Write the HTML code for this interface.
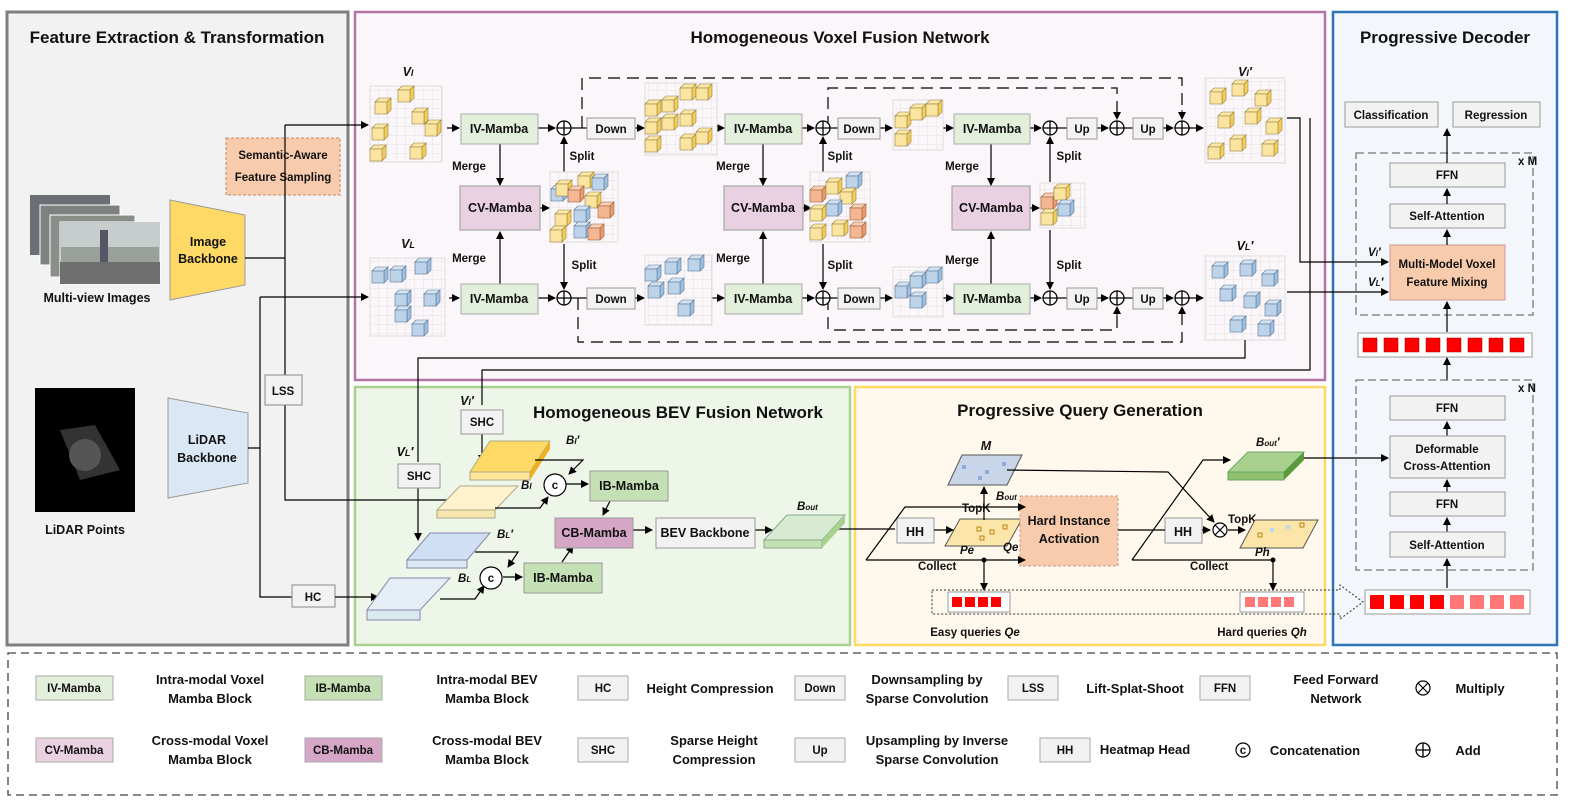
<!DOCTYPE html>
<html><head><meta charset="utf-8"><style>
html,body{margin:0;padding:0;background:#fff}
svg{display:block}
text{font-family:"Liberation Sans",sans-serif;font-weight:bold;fill:#111}
.t{font-size:17px}
.b{font-size:12.5px}
.s{font-size:11.5px}
.l{font-size:13px}
.i{font-style:italic}
</style></head><body>
<svg width="1577" height="809" viewBox="0 0 1577 809" xmlns="http://www.w3.org/2000/svg">
<defs>
<marker id="a" markerWidth="8" markerHeight="8" refX="7" refY="4" orient="auto" markerUnits="userSpaceOnUse"><path d="M0,0 L8,4 L0,8 z" fill="#000"/></marker>
<pattern id="g" width="9" height="9" patternUnits="userSpaceOnUse"><path d="M9,0 L0,0 0,9" fill="none" stroke="#dcdcdc" stroke-width="0.7"/></pattern>
<g id="cy"><path d="M0,4 L4,0 16,0 12,4z" fill="#fbe8a6" stroke="#9a8240" stroke-width="0.6"/><path d="M12,4 L16,0 16,12 12,16z" fill="#f3cf5a" stroke="#9a8240" stroke-width="0.6"/><rect x="0" y="4" width="12" height="12" fill="#fbe3a0" stroke="#9a8240" stroke-width="0.6"/></g>
<g id="cb"><path d="M0,4 L4,0 16,0 12,4z" fill="#d4e3f2" stroke="#5b7896" stroke-width="0.6"/><path d="M12,4 L16,0 16,12 12,16z" fill="#9fbfe0" stroke="#5b7896" stroke-width="0.6"/><rect x="0" y="4" width="12" height="12" fill="#bcd3ea" stroke="#5b7896" stroke-width="0.6"/></g>
<g id="co"><path d="M0,4 L4,0 16,0 12,4z" fill="#f8cfb4" stroke="#9a6040" stroke-width="0.6"/><path d="M12,4 L16,0 16,12 12,16z" fill="#ec9b6c" stroke="#9a6040" stroke-width="0.6"/><rect x="0" y="4" width="12" height="12" fill="#f4b792" stroke="#9a6040" stroke-width="0.6"/></g>
<g id="add"><circle r="7" fill="#fff" stroke="#000" stroke-width="1.3"/><path d="M-7,0 H7 M0,-7 V7" stroke="#000" stroke-width="1.3"/></g>
</defs>

<rect x="7" y="12" width="341" height="633" fill="#f2f2f2" stroke="#7f7f7f" stroke-width="3"/>
<rect x="355" y="12" width="970" height="368" fill="#fbf6f9" stroke="#b574a5" stroke-width="2.5"/>
<rect x="355" y="387" width="495" height="258" fill="#eef5e9" stroke="#a9d18e" stroke-width="2.5"/>
<rect x="855" y="387" width="470" height="258" fill="#fff8ec" stroke="#ffd966" stroke-width="2.5"/>
<rect x="1333" y="12" width="224" height="633" fill="#f3f6fa" stroke="#2e75b6" stroke-width="2.5"/>
<rect x="8" y="653" width="1549" height="142" fill="#fff" stroke="#444" stroke-width="1.3" stroke-dasharray="8,5"/>

<text class="t" x="177" y="43" text-anchor="middle">Feature Extraction &amp; Transformation</text>
<text class="t" x="840" y="43" text-anchor="middle">Homogeneous Voxel Fusion Network</text>
<text class="t" x="678" y="418" text-anchor="middle">Homogeneous BEV Fusion Network</text>
<text class="t" x="1080" y="416" text-anchor="middle">Progressive Query Generation</text>
<text class="t" x="1445" y="43" text-anchor="middle">Progressive Decoder</text>

<g>
<rect x="30" y="195" width="80" height="60" fill="#6b6e75"/>
<rect x="40" y="205" width="80" height="60" fill="#7d8280" stroke="#fff"/>
<rect x="50" y="215" width="85" height="62" fill="#8a8f8a" stroke="#fff"/>
<rect x="60" y="222" width="100" height="62" fill="#9aa09a" stroke="#fff"/>
<rect x="60" y="222" width="100" height="25" fill="#c7cccc"/>
<rect x="60" y="262" width="100" height="22" fill="#6f6f6f"/>
<rect x="100" y="230" width="8" height="32" fill="#556"/>
</g>
<text class="b" x="97" y="302" text-anchor="middle">Multi-view Images</text>
<path d="M170,200 L245,215 L245,285 L170,300z" fill="#ffd966" stroke="#999"/>
<text class="b" x="208" y="246" text-anchor="middle">Image</text><text class="b" x="208" y="263" text-anchor="middle">Backbone</text>
<rect x="35" y="388" width="100" height="124" fill="#000"/>
<path d="M60,430 L95,425 L120,470 L80,480z" fill="#333"/>
<circle cx="85" cy="455" r="16" fill="#555"/>
<text class="b" x="85" y="534" text-anchor="middle">LiDAR Points</text>
<path d="M168,398 L248,413 L248,483 L168,498z" fill="#dae8f5" stroke="#999"/>
<text class="b" x="207" y="444" text-anchor="middle">LiDAR</text><text class="b" x="207" y="462" text-anchor="middle">Backbone</text>
<rect x="226" y="138" width="114" height="57" fill="#f8cbad" stroke="#c0895f" stroke-dasharray="3,2"/>
<text class="s" x="283" y="159" text-anchor="middle">Semantic-Aware</text><text class="s" x="283" y="181" text-anchor="middle">Feature Sampling</text>
<path d="M245,258 H285 M285,125 V375 M285,405 V500 H478" fill="none" stroke="#000" stroke-width="1.2"/>
<path d="M285,125 H368" fill="none" stroke="#000" stroke-width="1.2" marker-end="url(#a)"/>
<rect x="265" y="375" width="37" height="30" fill="#f2f2f2" stroke="#888"/>
<text class="s" x="283" y="395" text-anchor="middle">LSS</text>
<path d="M248,448 H260 M260,297 V597 H292" fill="none" stroke="#000" stroke-width="1.2"/>
<path d="M260,297 H368" fill="none" stroke="#000" stroke-width="1.2" marker-end="url(#a)"/>
<rect x="292" y="585" width="43" height="22" fill="#f2f2f2" stroke="#888"/>
<text class="s" x="313" y="601" text-anchor="middle">HC</text>
<path d="M335,597 H378" fill="none" stroke="#000" stroke-width="1.2" marker-end="url(#a)"/>

<rect x="370" y="86" width="72" height="76" fill="url(#g)" stroke="#ddd"/>
<use href="#cy" x="375" y="98"/><use href="#cy" x="398" y="86"/><use href="#cy" x="412" y="108"/><use href="#cy" x="372" y="124"/><use href="#cy" x="425" y="120"/><use href="#cy" x="370" y="145"/><use href="#cy" x="410" y="143"/>
<text class="b i" x="408" y="76" text-anchor="middle">V<tspan font-size="9">I</tspan></text>
<rect x="370" y="258" width="75" height="78" fill="url(#g)" stroke="#ddd"/>
<use href="#cb" x="372" y="267"/><use href="#cb" x="390" y="266"/><use href="#cb" x="415" y="258"/><use href="#cb" x="395" y="290"/><use href="#cb" x="424" y="290"/><use href="#cb" x="395" y="306"/><use href="#cb" x="412" y="320"/>
<text class="b i" x="408" y="248" text-anchor="middle">V<tspan font-size="9">L</tspan></text>

<g stroke="#000" stroke-width="1.2" fill="none">
<path d="M447,128 H459" marker-end="url(#a)"/><path d="M449,298 H459" marker-end="url(#a)"/>
<path d="M538,128 H555" marker-end="url(#a)"/><path d="M538,298 H555" marker-end="url(#a)"/>
<path d="M500,144 V185" marker-end="url(#a)"/><path d="M500,284 V232" marker-end="url(#a)"/>
<path d="M540,208 H549" marker-end="url(#a)"/>
<path d="M564,172 V137" marker-end="url(#a)"/><path d="M564,244 V289" marker-end="url(#a)"/>
<path d="M571,128 H587"/><path d="M571,298 H587"/>
<path d="M635,128 H644" marker-end="url(#a)"/><path d="M635,298 H644" marker-end="url(#a)"/>
<path d="M717,128 H724" marker-end="url(#a)"/><path d="M712,298 H724" marker-end="url(#a)"/>
<path d="M802,128 H814" marker-end="url(#a)"/><path d="M802,298 H814" marker-end="url(#a)"/>
<path d="M763,144 V185" marker-end="url(#a)"/><path d="M763,284 V232" marker-end="url(#a)"/>
<path d="M803,208 H811" marker-end="url(#a)"/>
<path d="M823,172 V137" marker-end="url(#a)"/><path d="M823,244 V289" marker-end="url(#a)"/>
<path d="M830,128 H838"/><path d="M830,298 H838"/>
<path d="M880,128 H892" marker-end="url(#a)"/><path d="M880,298 H892" marker-end="url(#a)"/>
<path d="M943,128 H953" marker-end="url(#a)"/><path d="M943,298 H953" marker-end="url(#a)"/>
<path d="M1030,128 H1041" marker-end="url(#a)"/><path d="M1030,298 H1041" marker-end="url(#a)"/>
<path d="M991,144 V185" marker-end="url(#a)"/><path d="M991,284 V232" marker-end="url(#a)"/>
<path d="M1030,208 H1039" marker-end="url(#a)"/>
<path d="M1050,182 V137" marker-end="url(#a)"/><path d="M1050,230 V289" marker-end="url(#a)"/>
<path d="M1057,128 H1067"/><path d="M1057,298 H1067"/>
<path d="M1097,128 H1108" marker-end="url(#a)"/><path d="M1097,298 H1108" marker-end="url(#a)"/>
<path d="M1124,128 H1133"/><path d="M1124,298 H1133"/>
<path d="M1163,128 H1173" marker-end="url(#a)"/><path d="M1163,298 H1173" marker-end="url(#a)"/>
<path d="M1189,128 H1203" marker-end="url(#a)"/><path d="M1189,298 H1203" marker-end="url(#a)"/>
</g>
<g stroke="#000" stroke-width="1.2" fill="none" stroke-dasharray="12,7">
<path d="M582,128 V78 H1182 V119"/><path d="M828,128 V88 H1117 V119"/>
<path d="M578,298 V342 H1182 V307"/><path d="M828,298 V330 H1117 V307"/>
</g>
<path d="M1182,110 V119" stroke="#000" marker-end="url(#a)"/><path d="M1117,110 V119" stroke="#000" marker-end="url(#a)"/>
<path d="M1182,316 V307" stroke="#000" marker-end="url(#a)"/><path d="M1117,316 V307" stroke="#000" marker-end="url(#a)"/>

<g>
<rect x="461" y="114" width="77" height="30" fill="#e2efda" stroke="#aaa"/><text class="b" x="499" y="133" text-anchor="middle">IV-Mamba</text>
<rect x="461" y="284" width="77" height="30" fill="#e2efda" stroke="#aaa"/><text class="b" x="499" y="303" text-anchor="middle">IV-Mamba</text>
<rect x="460" y="186" width="80" height="44" fill="#ead1e2" stroke="#999"/><text class="b" x="500" y="212" text-anchor="middle">CV-Mamba</text>
<rect x="725" y="114" width="77" height="30" fill="#e2efda" stroke="#aaa"/><text class="b" x="763" y="133" text-anchor="middle">IV-Mamba</text>
<rect x="725" y="284" width="77" height="30" fill="#e2efda" stroke="#aaa"/><text class="b" x="763" y="303" text-anchor="middle">IV-Mamba</text>
<rect x="724" y="186" width="79" height="44" fill="#ead1e2" stroke="#999"/><text class="b" x="763" y="212" text-anchor="middle">CV-Mamba</text>
<rect x="954" y="114" width="76" height="30" fill="#e2efda" stroke="#aaa"/><text class="b" x="992" y="133" text-anchor="middle">IV-Mamba</text>
<rect x="954" y="284" width="76" height="30" fill="#e2efda" stroke="#aaa"/><text class="b" x="992" y="303" text-anchor="middle">IV-Mamba</text>
<rect x="952" y="186" width="78" height="44" fill="#ead1e2" stroke="#999"/><text class="b" x="991" y="212" text-anchor="middle">CV-Mamba</text>
</g>
<g>
<rect x="587" y="118" width="48" height="21" fill="#f2f2f2" stroke="#999"/><text class="s" x="611" y="133" text-anchor="middle">Down</text>
<rect x="587" y="288" width="48" height="21" fill="#f2f2f2" stroke="#999"/><text class="s" x="611" y="303" text-anchor="middle">Down</text>
<rect x="838" y="118" width="42" height="21" fill="#f2f2f2" stroke="#999"/><text class="s" x="859" y="133" text-anchor="middle">Down</text>
<rect x="838" y="288" width="42" height="21" fill="#f2f2f2" stroke="#999"/><text class="s" x="859" y="303" text-anchor="middle">Down</text>
<rect x="1067" y="118" width="30" height="21" fill="#f2f2f2" stroke="#999"/><text class="s" x="1082" y="133" text-anchor="middle">Up</text>
<rect x="1067" y="288" width="30" height="21" fill="#f2f2f2" stroke="#999"/><text class="s" x="1082" y="303" text-anchor="middle">Up</text>
<rect x="1133" y="118" width="30" height="21" fill="#f2f2f2" stroke="#999"/><text class="s" x="1148" y="133" text-anchor="middle">Up</text>
<rect x="1133" y="288" width="30" height="21" fill="#f2f2f2" stroke="#999"/><text class="s" x="1148" y="303" text-anchor="middle">Up</text>
</g>
<use href="#add" x="564" y="128"/><use href="#add" x="564" y="298"/><use href="#add" x="823" y="128"/><use href="#add" x="823" y="298"/>
<use href="#add" x="1050" y="128"/><use href="#add" x="1050" y="298"/><use href="#add" x="1117" y="128"/><use href="#add" x="1117" y="298"/><use href="#add" x="1182" y="128"/><use href="#add" x="1182" y="298"/>
<text class="s" x="469" y="170" text-anchor="middle">Merge</text><text class="s" x="469" y="262" text-anchor="middle">Merge</text>
<text class="s" x="582" y="160" text-anchor="middle">Split</text><text class="s" x="584" y="269" text-anchor="middle">Split</text>
<text class="s" x="733" y="170" text-anchor="middle">Merge</text><text class="s" x="733" y="262" text-anchor="middle">Merge</text>
<text class="s" x="840" y="160" text-anchor="middle">Split</text><text class="s" x="840" y="269" text-anchor="middle">Split</text>
<text class="s" x="962" y="170" text-anchor="middle">Merge</text><text class="s" x="962" y="264" text-anchor="middle">Merge</text>
<text class="s" x="1069" y="160" text-anchor="middle">Split</text><text class="s" x="1069" y="269" text-anchor="middle">Split</text>

<rect x="550" y="172" width="68" height="70" fill="url(#g)" stroke="#ddd"/>
<use href="#cb" x="551" y="185"/><use href="#cy" x="556" y="180"/><use href="#cy" x="578" y="172"/><use href="#cb" x="592" y="174"/><use href="#co" x="568" y="186"/><use href="#cy" x="585" y="192"/><use href="#cb" x="574" y="206"/><use href="#co" x="598" y="202"/><use href="#cy" x="555" y="210"/><use href="#cb" x="574" y="222"/><use href="#co" x="588" y="224"/><use href="#cy" x="550" y="226"/>
<rect x="645" y="83" width="72" height="72" fill="url(#g)" stroke="#ddd"/>
<use href="#cy" x="645" y="100"/><use href="#cy" x="662" y="96"/><use href="#cy" x="680" y="84"/><use href="#cy" x="696" y="84"/><use href="#cy" x="645" y="118"/><use href="#cy" x="680" y="110"/><use href="#cy" x="645" y="136"/><use href="#cy" x="680" y="134"/><use href="#cy" x="696" y="128"/><use href="#cy" x="662" y="114"/>
<rect x="645" y="255" width="67" height="70" fill="url(#g)" stroke="#ddd"/>
<use href="#cb" x="645" y="265"/><use href="#cb" x="665" y="258"/><use href="#cb" x="688" y="255"/><use href="#cb" x="668" y="278"/><use href="#cb" x="678" y="300"/><use href="#cb" x="648" y="282"/>
<rect x="810" y="172" width="60" height="70" fill="url(#g)" stroke="#ddd"/>
<use href="#co" x="810" y="186"/><use href="#cy" x="826" y="178"/><use href="#cb" x="846" y="172"/><use href="#cy" x="840" y="188"/><use href="#cb" x="826" y="200"/><use href="#co" x="850" y="204"/><use href="#cy" x="810" y="205"/><use href="#cy" x="810" y="224"/><use href="#co" x="850" y="222"/><use href="#cy" x="832" y="220"/>
<rect x="893" y="100" width="50" height="50" fill="url(#g)" stroke="#ddd"/>
<use href="#cy" x="895" y="112"/><use href="#cy" x="910" y="104"/><use href="#cy" x="926" y="100"/><use href="#cy" x="895" y="130"/>
<rect x="893" y="267" width="50" height="50" fill="url(#g)" stroke="#ddd"/>
<use href="#cb" x="895" y="282"/><use href="#cb" x="910" y="272"/><use href="#cb" x="926" y="267"/><use href="#cb" x="910" y="292"/>
<rect x="1040" y="183" width="45" height="45" fill="url(#g)" stroke="#ddd"/>
<use href="#co" x="1041" y="193"/><use href="#cy" x="1054" y="184"/><use href="#cb" x="1058" y="200"/><use href="#cy" x="1041" y="209"/>
<rect x="1205" y="78" width="80" height="85" fill="url(#g)" stroke="#ddd"/>
<use href="#cy" x="1210" y="88"/><use href="#cy" x="1232" y="80"/><use href="#cy" x="1255" y="90"/><use href="#cy" x="1218" y="112"/><use href="#cy" x="1245" y="108"/><use href="#cy" x="1266" y="118"/><use href="#cy" x="1230" y="135"/><use href="#cy" x="1262" y="140"/><use href="#cy" x="1208" y="143"/>
<text class="b i" x="1245" y="76" text-anchor="middle">V<tspan font-size="9">I</tspan>′</text>
<rect x="1205" y="256" width="80" height="84" fill="url(#g)" stroke="#ddd"/>
<use href="#cb" x="1212" y="262"/><use href="#cb" x="1240" y="260"/><use href="#cb" x="1262" y="270"/><use href="#cb" x="1220" y="285"/><use href="#cb" x="1244" y="292"/><use href="#cb" x="1265" y="300"/><use href="#cb" x="1230" y="316"/><use href="#cb" x="1258" y="320"/>
<text class="b i" x="1245" y="250" text-anchor="middle">V<tspan font-size="9">L</tspan>′</text>
<path d="M1287,118 H1300 V262 H1388" fill="none" stroke="#000" stroke-width="1.2" marker-end="url(#a)"/>
<path d="M1287,292 H1388" fill="none" stroke="#000" stroke-width="1.2" marker-end="url(#a)"/>
<path d="M1310,118 V370 H482 V405" fill="none" stroke="#000" stroke-width="1.2"/>
<path d="M1245,340 V358 H418 V462" fill="none" stroke="#000" stroke-width="1.2"/>
<path d="M418,487 V540" fill="none" stroke="#000" stroke-width="1.2" marker-end="url(#a)"/>
<path d="M482,433 V462" fill="none" stroke="#000" stroke-width="1.2" marker-end="url(#a)"/>

<text class="b i" x="467" y="405" text-anchor="middle">V<tspan font-size="9">I</tspan>′</text>
<rect x="461" y="410" width="42" height="24" fill="#f2f2f2" stroke="#999"/><text class="s" x="482" y="426" text-anchor="middle">SHC</text>
<text class="b i" x="405" y="456" text-anchor="middle">V<tspan font-size="9">L</tspan>′</text>
<rect x="398" y="464" width="42" height="24" fill="#f2f2f2" stroke="#999"/><text class="s" x="419" y="480" text-anchor="middle">SHC</text>
<path d="M470,472 L490,441 L550,441 L530,472z" fill="#ffd966" stroke="#aa8"/><path d="M470,472 H530 V480 H470z" fill="#ffe699" stroke="#aa8"/><path d="M530,472 L550,441 V449 L530,480z" fill="#f0b020"/>
<text class="s i" x="566" y="444">B<tspan font-size="8">I</tspan>′</text>
<path d="M437,510 L460,486 L518,486 L495,510z" fill="#fff2cc" stroke="#aa8"/><path d="M437,510 H495 V518 H437z" fill="#f7e6b0" stroke="#aa8"/>
<text class="s i" x="521" y="489">B<tspan font-size="8">I</tspan></text>
<path d="M407,560 L430,533 L490,533 L467,560z" fill="#d0e0f4" stroke="#88a"/><path d="M407,560 H467 V568 H407z" fill="#dae8f5" stroke="#88a"/>
<text class="s i" x="497" y="538">B<tspan font-size="8">L</tspan>′</text>
<path d="M367,610 L390,578 L450,578 L420,610z" fill="#e4eef4" stroke="#88a"/><path d="M367,610 H420 V620 H367z" fill="#dae8f0" stroke="#88a"/>
<text class="s i" x="458" y="582">B<tspan font-size="8">L</tspan></text>
<g stroke="#000" stroke-width="1.2" fill="none">
<path d="M535,460 H583 L569,474" marker-end="url(#a)"/>
<path d="M495,508 H540 L548,497" marker-end="url(#a)"/>
<path d="M475,552 H518 L508,567" marker-end="url(#a)"/>
<path d="M440,599 H475 L484,586" marker-end="url(#a)"/>
<path d="M566,484 H588" marker-end="url(#a)"/>
<path d="M503,577 H522" marker-end="url(#a)"/>
<path d="M610,501 L603,515" marker-end="url(#a)"/>
<path d="M562,562 L573,546" marker-end="url(#a)"/>
<path d="M633,530 H652" marker-end="url(#a)"/>
<path d="M755,530 H772" marker-end="url(#a)"/>
<path d="M832,529 H895"/>
</g>
<circle cx="555" cy="485" r="11" fill="#fff" stroke="#000" stroke-width="1.2"/><text class="s" x="555" y="489" text-anchor="middle" font-size="10">c</text>
<circle cx="491" cy="578" r="11" fill="#fff" stroke="#000" stroke-width="1.2"/><text class="s" x="491" y="582" text-anchor="middle" font-size="10">c</text>
<rect x="590" y="471" width="78" height="30" fill="#c5e0b4" stroke="#999"/><text class="b" x="629" y="490" text-anchor="middle">IB-Mamba</text>
<rect x="524" y="563" width="78" height="30" fill="#c5e0b4" stroke="#999"/><text class="b" x="563" y="582" text-anchor="middle">IB-Mamba</text>
<rect x="555" y="518" width="78" height="30" fill="#d5a6c5" stroke="#999"/><text class="b" x="594" y="537" text-anchor="middle">CB-Mamba</text>
<rect x="656" y="518" width="99" height="30" fill="#f2f2f2" stroke="#999"/><text class="b" x="705" y="537" text-anchor="middle">BEV Backbone</text>
<path d="M764,540 L787,515 L845,515 L822,540z" fill="#d9ead3" stroke="#8a8"/><path d="M764,540 H822 V548 H764z" fill="#c5e0b4" stroke="#8a8"/><path d="M822,540 L845,515 V523 L822,548z" fill="#a9d18e"/>
<text class="s i" x="797" y="510">B<tspan font-size="8">out</tspan></text>

<path d="M948,485 L962,455 L1022,455 L1007,485z" fill="#c9d5e8" stroke="#555"/>
<rect x="962" y="465" width="4" height="4" fill="#8eaadb"/><rect x="985" y="470" width="4" height="4" fill="#8eaadb"/><rect x="1002" y="462" width="4" height="4" fill="#8eaadb"/><rect x="978" y="476" width="4" height="4" fill="#8eaadb"/>
<text class="b i" x="986" y="450" text-anchor="middle">M</text>
<path d="M945,546 L960,519 L1022,519 L1007,546z" fill="#fbe5a8" stroke="#555"/>
<rect x="977" y="527" width="4" height="4" fill="none" stroke="#b8860b"/><rect x="990" y="530" width="4" height="4" fill="none" stroke="#b8860b"/><rect x="1003" y="525" width="4" height="4" fill="none" stroke="#b8860b"/><rect x="980" y="536" width="4" height="4" fill="none" stroke="#b8860b"/>
<text class="s i" x="960" y="554" font-size="10">Pe</text>
<rect x="1020" y="496" width="98" height="70" fill="#f8cbad" stroke="#c99" stroke-dasharray="3,2"/>
<text class="b" x="1069" y="525" text-anchor="middle">Hard Instance</text><text class="b" x="1069" y="543" text-anchor="middle">Activation</text>
<rect x="897" y="518" width="37" height="25" fill="#f2f2f2" stroke="#999"/><text class="b" x="915" y="536" text-anchor="middle">HH</text>
<rect x="1165" y="518" width="37" height="25" fill="#f2f2f2" stroke="#999"/><text class="b" x="1183" y="536" text-anchor="middle">HH</text>
<g stroke="#000" stroke-width="1.2" fill="none">
<path d="M934,530 H953" marker-end="url(#a)"/>
<path d="M866,560 L905,507 H1025" marker-end="url(#a)"/>
<path d="M866,560 H1025" marker-end="url(#a)"/>
<path d="M984,520 V487" marker-end="url(#a)"/>
<path d="M984,560 V590" marker-end="url(#a)"/>
<path d="M1118,530 H1165"/>
<path d="M1202,530 H1210" marker-end="url(#a)"/>
<path d="M1007,470 L1168,472 L1214,522" marker-end="url(#a)"/>
<path d="M1228,530 H1245" marker-end="url(#a)"/>
<path d="M1132,560 L1203,460 H1230" marker-end="url(#a)"/>
<path d="M1132,560 H1273 V590" marker-end="url(#a)"/>
<path d="M1300,458 H1388" marker-end="url(#a)"/>
</g>
<circle cx="984" cy="560" r="2.5"/><circle cx="1273" cy="560" r="2.5"/>
<circle cx="1220" cy="530" r="7" fill="#fff" stroke="#000" stroke-width="1.2"/><path d="M1215,525 L1225,535 M1225,525 L1215,535" stroke="#000" stroke-width="1.2"/>
<text class="s" x="962" y="512" font-size="10">TopK</text><text class="s" x="1228" y="523" font-size="10">TopK</text>
<text class="s i" x="996" y="500" font-size="10">B<tspan font-size="8">out</tspan></text><text class="s i" x="1003" y="551" font-size="10">Qe</text>
<text class="s" x="918" y="570" font-size="10">Collect</text><text class="s" x="1190" y="570" font-size="10">Collect</text>
<path d="M1240,548 L1255,520 L1318,520 L1303,548z" fill="#fbe5a8" stroke="#555"/>
<rect x="1270" y="528" width="4" height="4" fill="#bdd7ee"/><rect x="1286" y="525" width="4" height="4" fill="#bdd7ee"/><rect x="1258" y="533" width="4" height="4" fill="none" stroke="#b8860b"/><rect x="1300" y="523" width="4" height="4" fill="none" stroke="#b8860b"/>
<text class="s i" x="1255" y="556" font-size="10">Ph</text>
<path d="M1228,472 L1248,452 L1304,452 L1284,472z" fill="#a9d18e" stroke="#6a6"/><path d="M1228,472 H1284 V480 H1228z" fill="#8fc16f" stroke="#6a6"/><path d="M1284,472 L1304,452 V460 L1284,480z" fill="#5a9a3a"/>
<text class="s i" x="1256" y="446">B<tspan font-size="8">out</tspan>′</text>
<path d="M932,590 H1340 V585 L1363,602 L1340,619 V614 H932z" fill="none" stroke="#333" stroke-dasharray="2,2"/>
<rect x="948" y="592" width="62" height="20" fill="#fff" stroke="#999"/>
<rect x="952" y="597" width="10" height="10" fill="#f00"/><rect x="965" y="597" width="10" height="10" fill="#f00"/><rect x="978" y="597" width="10" height="10" fill="#f00"/><rect x="991" y="597" width="10" height="10" fill="#f00"/>
<rect x="1240" y="592" width="64" height="20" fill="#fff" stroke="#999"/>
<rect x="1245" y="597" width="10" height="10" fill="#f77"/><rect x="1258" y="597" width="10" height="10" fill="#f77"/><rect x="1271" y="597" width="10" height="10" fill="#f77"/><rect x="1284" y="597" width="10" height="10" fill="#f77"/>
<text class="s" x="975" y="636" text-anchor="middle">Easy queries <tspan font-style="italic">Qe</tspan></text>
<text class="s" x="1262" y="636" text-anchor="middle">Hard queries <tspan font-style="italic">Qh</tspan></text>

<rect x="1345" y="102" width="93" height="25" fill="#f2f2f2" stroke="#999"/><text class="s" x="1391" y="119" text-anchor="middle">Classification</text>
<rect x="1453" y="102" width="87" height="25" fill="#f2f2f2" stroke="#999"/><text class="s" x="1496" y="119" text-anchor="middle">Regression</text>
<rect x="1356" y="153" width="177" height="162" fill="none" stroke="#777" stroke-width="1.3" stroke-dasharray="8,4"/>
<text class="s" x="1518" y="165">x M</text>
<rect x="1390" y="163" width="115" height="24" fill="#f2f2f2" stroke="#999"/><text class="s" x="1447" y="179" text-anchor="middle">FFN</text>
<rect x="1390" y="204" width="115" height="24" fill="#f2f2f2" stroke="#999"/><text class="s" x="1447" y="220" text-anchor="middle">Self-Attention</text>
<rect x="1390" y="245" width="115" height="55" fill="#f8cbad" stroke="#c99"/><text class="s" x="1447" y="268" text-anchor="middle">Multi-Model Voxel</text><text class="s" x="1447" y="286" text-anchor="middle">Feature Mixing</text>
<text class="s i" x="1368" y="256">V<tspan font-size="8">I</tspan>′</text><text class="s i" x="1368" y="286">V<tspan font-size="8">L</tspan>′</text>
<g stroke="#000" stroke-width="1.2" fill="none">
<path d="M1447,163 V129" marker-end="url(#a)"/><path d="M1447,204 V189" marker-end="url(#a)"/><path d="M1447,245 V230" marker-end="url(#a)"/>
<path d="M1447,332 V302" marker-end="url(#a)"/><path d="M1447,380 V358" marker-end="url(#a)"/>
<path d="M1447,436 V422" marker-end="url(#a)"/><path d="M1447,492 V480" marker-end="url(#a)"/><path d="M1447,532 V518" marker-end="url(#a)"/><path d="M1447,588 V559" marker-end="url(#a)"/>
</g>
<rect x="1358" y="333" width="174" height="24" fill="#fff" stroke="#999"/>
<g fill="#f00" stroke="#900" stroke-width="0.5"><rect x="1363" y="338" width="14" height="14"/><rect x="1384" y="338" width="14" height="14"/><rect x="1405" y="338" width="14" height="14"/><rect x="1426" y="338" width="14" height="14"/><rect x="1447" y="338" width="14" height="14"/><rect x="1468" y="338" width="14" height="14"/><rect x="1489" y="338" width="14" height="14"/><rect x="1510" y="338" width="14" height="14"/></g>
<rect x="1356" y="380" width="177" height="190" fill="none" stroke="#777" stroke-width="1.3" stroke-dasharray="8,4"/>
<text class="s" x="1518" y="392">x N</text>
<rect x="1390" y="396" width="115" height="24" fill="#f2f2f2" stroke="#999"/><text class="s" x="1447" y="412" text-anchor="middle">FFN</text>
<rect x="1390" y="436" width="115" height="42" fill="#f2f2f2" stroke="#999"/><text class="s" x="1447" y="453" text-anchor="middle">Deformable</text><text class="s" x="1447" y="470" text-anchor="middle">Cross-Attention</text>
<rect x="1390" y="492" width="115" height="24" fill="#f2f2f2" stroke="#999"/><text class="s" x="1447" y="508" text-anchor="middle">FFN</text>
<rect x="1390" y="532" width="115" height="25" fill="#f2f2f2" stroke="#999"/><text class="s" x="1447" y="549" text-anchor="middle">Self-Attention</text>
<rect x="1365" y="590" width="165" height="24" fill="#fff" stroke="#999"/>
<g><rect x="1370" y="595" width="14" height="14" fill="#f00"/><rect x="1390" y="595" width="14" height="14" fill="#f00"/><rect x="1410" y="595" width="14" height="14" fill="#f00"/><rect x="1430" y="595" width="14" height="14" fill="#f00"/><rect x="1450" y="595" width="14" height="14" fill="#f77"/><rect x="1470" y="595" width="14" height="14" fill="#f77"/><rect x="1490" y="595" width="14" height="14" fill="#f77"/><rect x="1510" y="595" width="14" height="14" fill="#f77"/></g>

<g>
<rect x="36" y="676" width="77" height="24" fill="#e2efda" stroke="#aaa"/><text class="s" x="74" y="692" text-anchor="middle">IV-Mamba</text>
<text class="l" x="210" y="684" text-anchor="middle">Intra-modal Voxel</text><text class="l" x="210" y="703" text-anchor="middle">Mamba Block</text>
<rect x="305" y="676" width="77" height="24" fill="#c5e0b4" stroke="#aaa"/><text class="s" x="343" y="692" text-anchor="middle">IB-Mamba</text>
<text class="l" x="487" y="684" text-anchor="middle">Intra-modal BEV</text><text class="l" x="487" y="703" text-anchor="middle">Mamba Block</text>
<rect x="578" y="676" width="50" height="24" fill="#f2f2f2" stroke="#aaa"/><text class="s" x="603" y="692" text-anchor="middle">HC</text>
<text class="l" x="710" y="693" text-anchor="middle">Height Compression</text>
<rect x="795" y="676" width="50" height="24" fill="#f2f2f2" stroke="#aaa"/><text class="s" x="820" y="692" text-anchor="middle">Down</text>
<text class="l" x="927" y="684" text-anchor="middle">Downsampling by</text><text class="l" x="927" y="703" text-anchor="middle">Sparse Convolution</text>
<rect x="1008" y="676" width="50" height="24" fill="#f2f2f2" stroke="#aaa"/><text class="s" x="1033" y="692" text-anchor="middle">LSS</text>
<text class="l" x="1135" y="693" text-anchor="middle">Lift-Splat-Shoot</text>
<rect x="1200" y="676" width="50" height="24" fill="#f2f2f2" stroke="#aaa"/><text class="s" x="1225" y="692" text-anchor="middle">FFN</text>
<text class="l" x="1336" y="684" text-anchor="middle">Feed Forward</text><text class="l" x="1336" y="703" text-anchor="middle">Network</text>
<circle cx="1423" cy="688" r="7" fill="#fff" stroke="#000" stroke-width="1.2"/><path d="M1418,683 L1428,693 M1428,683 L1418,693" stroke="#000" stroke-width="1.2"/>
<text class="l" x="1480" y="693" text-anchor="middle">Multiply</text>

<rect x="36" y="738" width="77" height="24" fill="#ead1e2" stroke="#aaa"/><text class="s" x="74" y="754" text-anchor="middle">CV-Mamba</text>
<text class="l" x="210" y="745" text-anchor="middle">Cross-modal Voxel</text><text class="l" x="210" y="764" text-anchor="middle">Mamba Block</text>
<rect x="305" y="738" width="77" height="24" fill="#d5a6c5" stroke="#aaa"/><text class="s" x="343" y="754" text-anchor="middle">CB-Mamba</text>
<text class="l" x="487" y="745" text-anchor="middle">Cross-modal BEV</text><text class="l" x="487" y="764" text-anchor="middle">Mamba Block</text>
<rect x="578" y="738" width="50" height="24" fill="#f2f2f2" stroke="#aaa"/><text class="s" x="603" y="754" text-anchor="middle">SHC</text>
<text class="l" x="714" y="745" text-anchor="middle">Sparse Height</text><text class="l" x="714" y="764" text-anchor="middle">Compression</text>
<rect x="795" y="738" width="50" height="24" fill="#f2f2f2" stroke="#aaa"/><text class="s" x="820" y="754" text-anchor="middle">Up</text>
<text class="l" x="937" y="745" text-anchor="middle">Upsampling by Inverse</text><text class="l" x="937" y="764" text-anchor="middle">Sparse Convolution</text>
<rect x="1040" y="738" width="50" height="24" fill="#f2f2f2" stroke="#aaa"/><text class="s" x="1065" y="754" text-anchor="middle">HH</text>
<text class="l" x="1145" y="754" text-anchor="middle">Heatmap Head</text>
<circle cx="1243" cy="750" r="7" fill="#fff" stroke="#000" stroke-width="1.2"/><text class="s" x="1243" y="754" text-anchor="middle" font-size="9">c</text>
<text class="l" x="1315" y="755" text-anchor="middle">Concatenation</text>
<use href="#add" x="1423" y="750"/>
<text class="l" x="1468" y="755" text-anchor="middle">Add</text>
</g>
</svg>
</body></html>
